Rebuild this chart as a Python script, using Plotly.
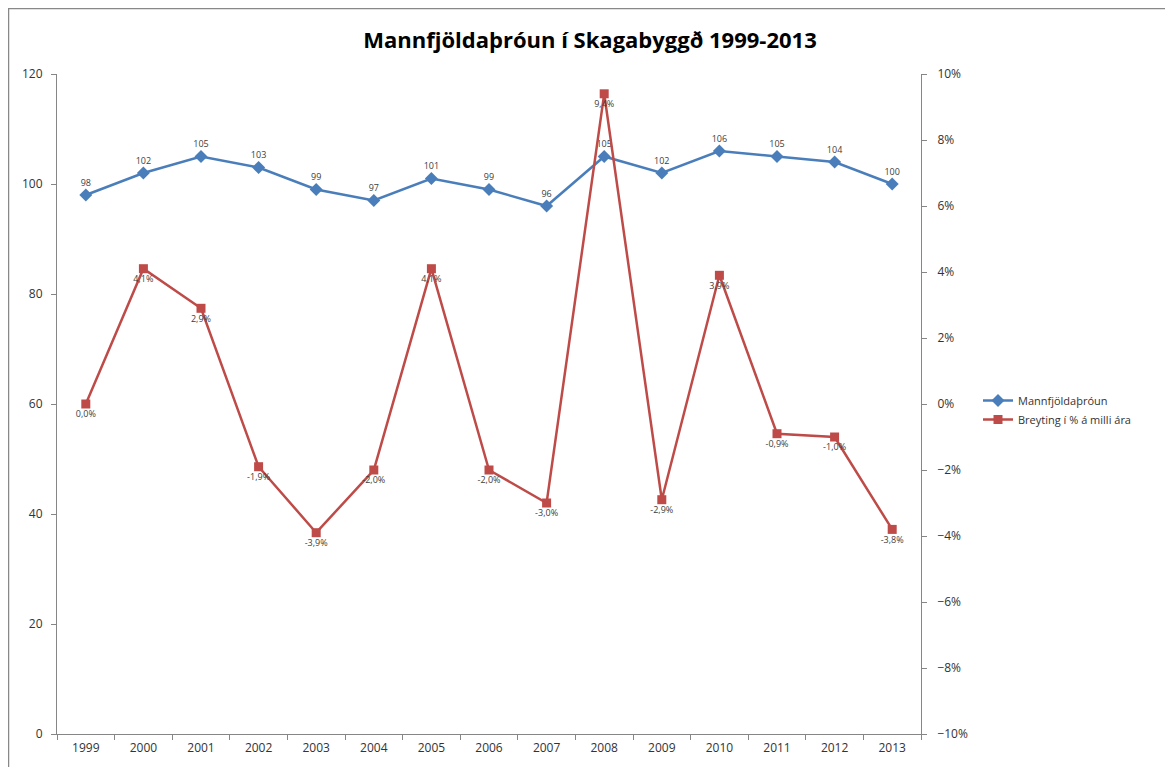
import plotly.graph_objects as go

years = ["1999", "2000", "2001", "2002", "2003", "2004", "2005", "2006",
         "2007", "2008", "2009", "2010", "2011", "2012", "2013"]
population = [98, 102, 105, 103, 99, 97, 101, 99, 96, 105, 102, 106, 105, 104, 100]
change_pct = [0.0, 4.1, 2.9, -1.9, -3.9, -2.0, 4.1, -2.0, -3.0, 9.4, -2.9, 3.9, -0.9, -1.0, -3.8]

blue = "#4A7EBB"
red = "#BE4B48"
font_family = "Open Sans, DejaVu Sans, sans-serif"

pct_labels = [f"{v:.1f}%".replace(".", ",") for v in change_pct]

# page body has an 8px margin; layout numbers below are in figure coordinates
L, T, PW, PH = 49, 66, 864, 660

fig = go.Figure()
fig.add_trace(go.Scatter(
    x=years, y=population, name="Mannfjöldaþróun",
    mode="lines+markers+text",
    line=dict(color=blue, width=2.5),
    marker=dict(symbol="diamond", size=10, color=blue),
    text=[str(v) for v in population], textposition="top center",
    textfont=dict(size=9, color="#404040"),
    cliponaxis=False,
))
fig.add_trace(go.Scatter(
    x=years, y=[v / 100 for v in change_pct], name="Breyting í % á milli ára",
    mode="lines+markers+text", yaxis="y2",
    line=dict(color=red, width=2.5),
    marker=dict(symbol="square", size=9, color=red),
    text=pct_labels, textposition="bottom center",
    textfont=dict(size=9, color="#404040"),
    cliponaxis=False,
))

axis_color = "#868686"
tick_font = dict(size=12, color="#333333")
fig.update_layout(
    width=1173, height=767,
    paper_bgcolor="white", plot_bgcolor="white",
    margin=dict(l=L, r=1173 - L - PW, t=T, b=767 - T - PH),
    font=dict(family=font_family, size=11, color="#404040"),
    title=dict(text="<b>Mannfjöldaþróun í Skagabyggð 1999-2013</b>",
               x=582 / 1173, xanchor="center",
               y=1 - 32 / 767, yanchor="middle",
               font=dict(size=22, color="#000000", family=font_family)),
    xaxis=dict(type="category", range=[-0.5, 14.5], showgrid=False,
               showline=True, linecolor=axis_color, linewidth=1,
               ticks="outside", tickson="boundaries", ticklen=5, tickcolor=axis_color,
               ticklabelstandoff=3, tickfont=tick_font),
    yaxis=dict(range=[0, 120], dtick=20, showgrid=False, zeroline=False,
               showline=True, linecolor=axis_color, linewidth=1,
               ticks="outside", ticklen=5, tickcolor=axis_color,
               ticklabelstandoff=6, tickfont=tick_font),
    yaxis2=dict(range=[-0.10, 0.10], dtick=0.02, tickformat=".0%", overlaying="y",
                side="right", showgrid=False, zeroline=False,
                showline=True, linecolor=axis_color, linewidth=1,
                ticks="outside", ticklen=5, tickcolor=axis_color,
                ticklabelstandoff=8, tickfont=tick_font),
    legend=dict(x=(970 - L) / PW, y=(726 - 402) / PH, xanchor="left", yanchor="middle",
                bgcolor="rgba(0,0,0,0)", font=dict(size=11, color="#333333"),
                itemwidth=30, tracegroupgap=4),
    showlegend=True,
)

fig.add_shape(type="rect", xref="paper", yref="paper",
              x0=(0.5 - L) / PW, x1=(1180 - L) / PW,
              y0=(T + PH - 775) / PH, y1=(T + PH - 0.5) / PH,
              line=dict(color="#888888", width=1.5), layer="below")

fig.write_html("out.html")
